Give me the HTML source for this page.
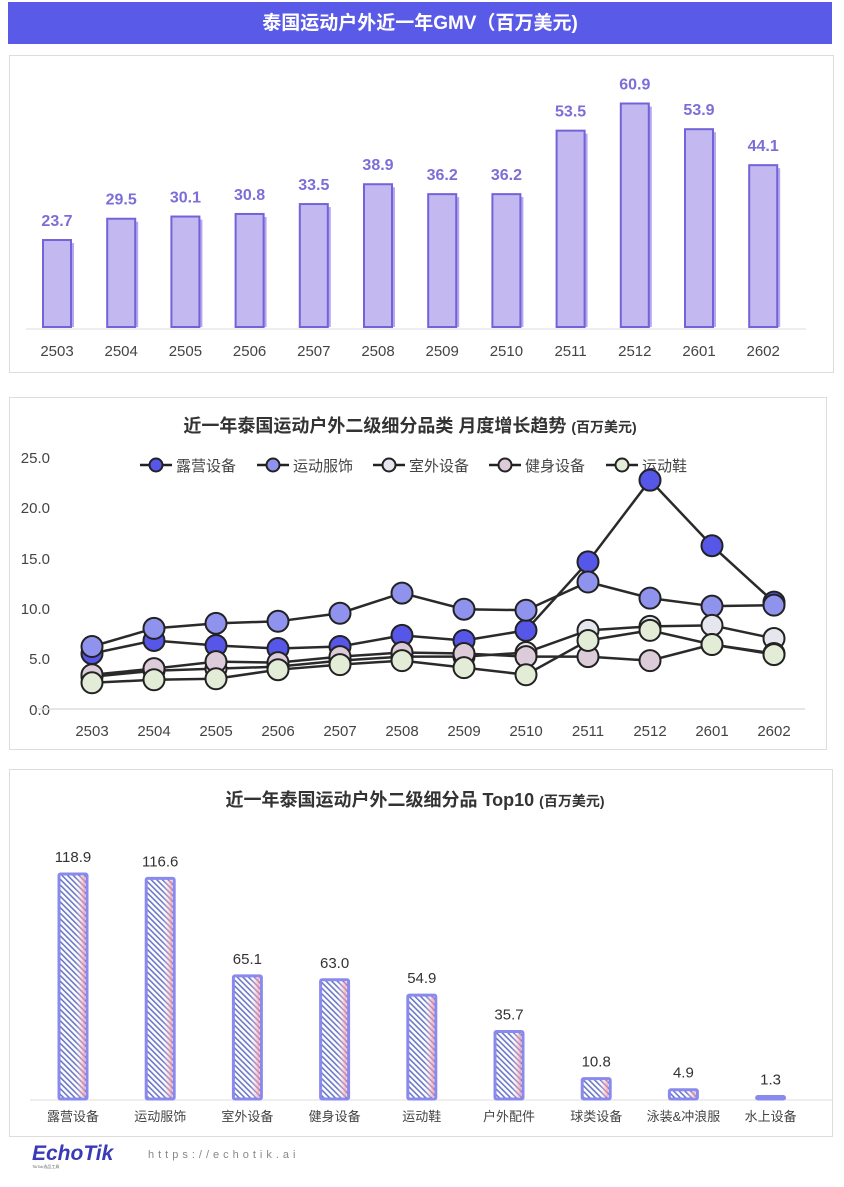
<!DOCTYPE html>
<html><head><meta charset="utf-8"><style>
body{margin:0;background:#fff;width:844px;height:1182px;overflow:hidden;font-family:"Liberation Sans","Noto Sans CJK SC",sans-serif}
</style></head><body>
<svg width="844" height="1182" viewBox="0 0 844 1182" xmlns="http://www.w3.org/2000/svg" font-family="Liberation Sans, Noto Sans CJK SC, sans-serif">
<defs>
<pattern id="h" width="4" height="4" patternUnits="userSpaceOnUse" patternTransform="rotate(-45)">
<rect width="4" height="4" fill="#fff"/><rect width="1.6" height="4" fill="#6b78c8"/></pattern>
<linearGradient id="pk" x1="0" x2="1"><stop offset="0.6" stop-color="#fff" stop-opacity="0"/><stop offset="1" stop-color="#f08a9a" stop-opacity="0.75"/></linearGradient>
</defs>
<rect x="8" y="2" width="824" height="42" fill="#5a5ae9"/>
<text x="420" y="29" text-anchor="middle" fill="#fff" font-size="19" font-weight="bold">泰国运动户外近一年GMV（百万美元)</text>

<rect x="9.5" y="55.5" width="824" height="317" fill="#fff" stroke="#ddd"/>
<line x1="26" y1="329" x2="806" y2="329" stroke="#ddd"/>
<g id="b1"></g>

<rect x="9.5" y="397.5" width="817" height="352" fill="#fff" stroke="#ddd"/>
<text x="410" y="432" text-anchor="middle" fill="#333" font-size="18" font-weight="bold">近一年泰国运动户外二级细分品类 月度增长趋势 <tspan font-size="14">(百万美元)</tspan></text>
<g fill="#444" font-size="15" text-anchor="end">
<text x="50" y="463">25.0</text><text x="50" y="513">20.0</text><text x="50" y="564">15.0</text><text x="50" y="614">10.0</text><text x="50" y="664">5.0</text><text x="50" y="715">0.0</text></g>
<line x1="38" y1="709" x2="805" y2="709" stroke="#ddd" stroke-width="1.5"/>
<g id="lg"></g><g id="ln"></g>

<rect x="9.5" y="769.5" width="823" height="367" fill="#fff" stroke="#ddd"/>
<text x="415" y="806" text-anchor="middle" fill="#333" font-size="18" font-weight="bold">近一年泰国运动户外二级细分品 Top10 <tspan font-size="14">(百万美元)</tspan></text>
<line x1="30" y1="1100" x2="832" y2="1100" stroke="#ddd"/>
<g id="b3"></g>

<text x="32" y="1160" font-size="21" font-weight="bold" font-style="italic" fill="#3a3ab8">EchoTik</text>
<text x="32" y="1168" font-size="4" fill="#666">TikTok选品工具</text>
<text x="148" y="1158" font-size="11" fill="#888" letter-spacing="4">https://echotik.ai</text>
</svg>
<script>
const NS="http://www.w3.org/2000/svg";
function el(p,t,a,txt){const e=document.createElementNS(NS,t);for(const k in a)e.setAttribute(k,a[k]);if(txt!=null)e.textContent=txt;document.getElementById(p).appendChild(e);return e;}
const m=["2503","2504","2505","2506","2507","2508","2509","2510","2511","2512","2601","2602"];
const g=[23.7,29.5,30.1,30.8,33.5,38.9,36.2,36.2,53.5,60.9,53.9,44.1];
m.forEach((k,i)=>{const cx=57+i*64.2,top=327-g[i]*3.67,h=327-top;
el("b1","rect",{x:cx-11,y:top+3,width:28,height:h-3,fill:"#b6a8ee"});
el("b1","rect",{x:cx-14,y:top,width:28,height:h,fill:"#c4b8f1",stroke:"#7264d8","stroke-width":2});
el("b1","text",{x:cx,y:top-14,"text-anchor":"middle","font-size":16,"font-weight":"bold",fill:"#7b6ed8"},g[i].toFixed(1));
el("b1","text",{x:cx,y:356,"text-anchor":"middle","font-size":15,fill:"#444"},k);
el("ln","text",{x:92+i*62,y:736,"text-anchor":"middle","font-size":15,fill:"#444"},k);});
const S=[
["露营设备","#5656e8",[5.5,6.8,6.3,6.0,6.2,7.3,6.8,7.8,14.6,22.7,16.2,10.6]],
["运动服饰","#8f93ee",[6.2,8.0,8.5,8.7,9.5,11.5,9.9,9.8,12.6,11.0,10.2,10.3]],
["室外设备","#e6e6ee",[3.2,3.8,4.0,4.2,4.8,5.2,5.2,5.6,7.8,8.2,8.3,7.0]],
["健身设备","#dccbd8",[3.4,4.0,4.7,4.6,5.2,5.6,5.5,5.2,5.2,4.8,6.4,5.5]],
["运动鞋","#e2ecd6",[2.6,2.9,3.0,3.9,4.4,4.8,4.1,3.4,6.8,7.8,6.4,5.4]]];
const lx=[140,257,373,489,606];
S.forEach((s,j)=>{
el("lg","line",{x1:lx[j],y1:465,x2:lx[j]+32,y2:465,stroke:"#222","stroke-width":2.5});
el("lg","circle",{cx:lx[j]+16,cy:465,r:6.5,fill:s[1],stroke:"#222","stroke-width":2});
el("lg","text",{x:lx[j]+36,y:471,"font-size":15,fill:"#444"},s[0]);
const pts=s[2].map((v,i)=>(92+i*62)+","+(709-v*10.08)).join(" ");
el("ln","polyline",{points:pts,fill:"none",stroke:"#2a2a2a","stroke-width":2.5});});
S.forEach(s=>s[2].forEach((v,i)=>el("ln","circle",{cx:92+i*62,cy:709-v*10.08,r:10.5,fill:s[1],stroke:"#222","stroke-width":2})));
const c=["露营设备","运动服饰","室外设备","健身设备","运动鞋","户外配件","球类设备","泳装&冲浪服","水上设备"];
const v=[118.9,116.6,65.1,63.0,54.9,35.7,10.8,4.9,1.3];
c.forEach((k,i)=>{const cx=73+i*87.2,top=1099-v[i]*1.892;
el("b3","rect",{x:cx-14,y:top,width:28,height:1099-top,fill:"url(#h)",stroke:"#8a8aee","stroke-width":3,rx:1.5});
el("b3","rect",{x:cx-12,y:top+2,width:24,height:Math.max(0,1095-top),fill:"url(#pk)"});
el("b3","text",{x:cx,y:top-12,"text-anchor":"middle","font-size":15,fill:"#333"},v[i].toFixed(1));
el("b3","text",{x:cx,y:1121,"text-anchor":"middle","font-size":13,fill:"#444"},k);});
</script>
</body></html>
